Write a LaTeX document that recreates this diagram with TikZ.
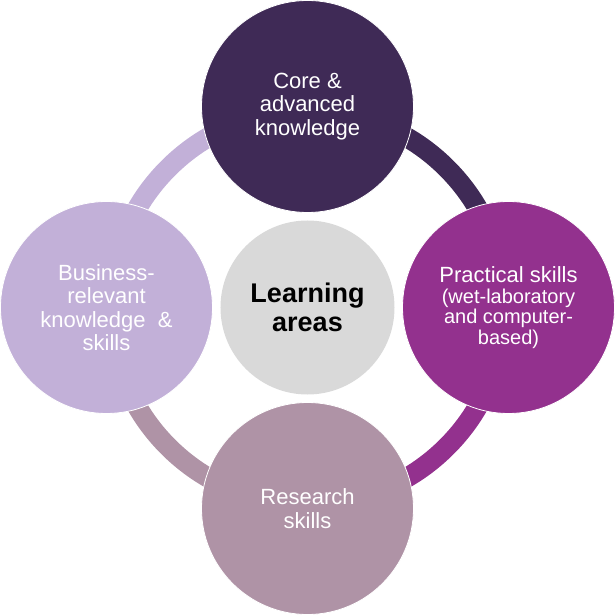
\documentclass[tikz,border=0pt]{standalone}
\usepackage{fontspec}
\setmainfont{Liberation Sans}
\usepackage{xcolor}
\usepackage{tikz}
\usetikzlibrary{positioning}

\definecolor{coreclr}{RGB}{63,42,86}
\definecolor{practclr}{RGB}{147,49,142}
\definecolor{resclr}{RGB}{175,147,166}
\definecolor{busclr}{RGB}{194,176,216}
\definecolor{hubclr}{RGB}{217,217,217}

\begin{document}
\begin{tikzpicture}[
      x=1pt, y=1pt,
      sat/.style={circle, draw=white, line width=0.8pt, minimum size=212pt,
                  inner sep=0pt, align=center, text=white,
                  font=\fontsize{22}{23.5}\selectfont},
      ring/.style={line width=20pt}
    ]
    \useasboundingbox (-307.5,-307.5) rectangle (307.5,307.5);

    \node[circle, fill=hubclr, minimum size=174pt, inner sep=0pt, align=center,
          font=\bfseries\fontsize{27}{29.5}\selectfont] (hub) at (0,0) {Learning\\areas};

    % ring segments under the circles
    \draw[ring, draw=coreclr]  (hub.center) ++(90:197)  arc[start angle=90,  end angle=0,    radius=197];
    \draw[ring, draw=practclr] (hub.center) ++(0:197)   arc[start angle=0,   end angle=-90,  radius=197];
    \draw[ring, draw=resclr]   (hub.center) ++(-90:197) arc[start angle=-90, end angle=-180, radius=197];
    \draw[ring, draw=busclr]   (hub.center) ++(180:197) arc[start angle=180, end angle=90,   radius=197];

    \node[sat, fill=coreclr]  (core)  at (90:201)  {Core \&\\advanced\\knowledge};
    \node[sat, fill=practclr, font=\fontsize{20}{20.5}\selectfont] (pract) at (0:201)
          {{\fontsize{22}{20.5}\selectfont Practical skills}\\(wet-laboratory\\and computer-\\based)};
    \node[sat, fill=resclr]   (res)   at (-90:201) {Research\\skills};
    \node[sat, fill=busclr]   (bus)   at (180:201) {Business-\\relevant\\knowledge \ \&\\skills};
  \end{tikzpicture}
\end{document}
